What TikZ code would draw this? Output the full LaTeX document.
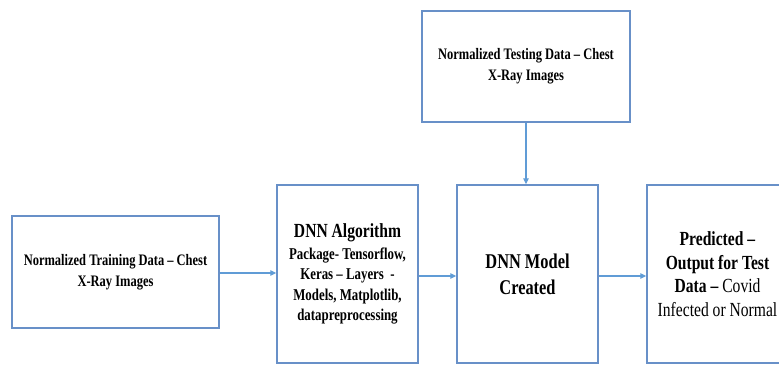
\documentclass[tikz,border=0pt]{standalone}
\usepackage{fontspec}
\setmainfont{Liberation Serif}[FakeStretch=0.78]
\usetikzlibrary{arrows.meta,calc}
\definecolor{boxline}{RGB}{104,144,200}
\definecolor{arrowline}{RGB}{96,156,214}
\begin{document}
\begin{tikzpicture}[x=1bp,y=-1bp,
  blockbox/.style={draw=boxline,line width=1.4bp,fill=white,rectangle,align=center,inner sep=0pt},
  flowarrow/.style={draw=arrowline,line width=1.1bp,-{Triangle[length=6bp,width=5.5bp]}},
  smalltxt/.style={font=\bfseries\fontsize{16bp}{21bp}\selectfont}]
\useasboundingbox (0,0) rectangle (779,365);
\clip (0,0) rectangle (779,365);
\node[blockbox,smalltxt,minimum width=207bp,minimum height=112bp] (train) at (115.5,272)
  {Normalized Training Data -- Chest\\X-Ray Images};
\node[blockbox,font=\bfseries\fontsize{16.5bp}{20.5bp}\selectfont,minimum width=141bp,minimum height=178bp] (algo) at (347.5,274)
  {{\fontsize{20bp}{23bp}\selectfont DNN Algorithm}\\[1bp]
   Package- Tensorflow,\\
   Keras -- Layers~~-\\ Models, Matplotlib,\\ datapreprocessing};
\node[blockbox,smalltxt,minimum width=208bp,minimum height=111bp] (test) at (526,66.5)
  {Normalized Testing Data -- Chest\\X-Ray Images};
\node[blockbox,font=\bfseries\fontsize{21bp}{26bp}\selectfont,minimum width=141bp,minimum height=178bp] (model) at (527.5,274)
  {DNN Model\\Created};
\node[blockbox,font=\fontsize{20bp}{23.5bp}\selectfont,minimum width=141bp,minimum height=178bp] (pred) at (717.5,274)
  {\textbf{Predicted --}\\ \textbf{Output for Test}\\ \textbf{Data --} Covid\\ Infected or Normal};
\draw[flowarrow] ($(train.east)+(0,1)$) -- ($(train.east -| algo.west)+(0,1)$);
\draw[flowarrow] ($(algo.east)+(0,2)$) -- ($(model.west)+(0,2)$);
\draw[flowarrow] ($(model.east)+(0,2)$) -- ($(pred.west)+(0,2)$);
\draw[flowarrow] (test.south) -- (test.south |- model.north);
\end{tikzpicture}
\end{document}
